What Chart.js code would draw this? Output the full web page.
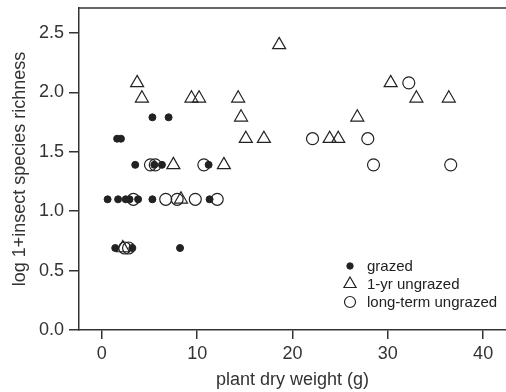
<!DOCTYPE html>
<html>
<head>
<meta charset="utf-8">
<script src="https://cdn.jsdelivr.net/npm/chart.js@4"></script>
<style>
html, body { margin: 0; padding: 0; background: #fff; }
</style>
</head>
<body>
<canvas id="myChart" width="506" height="392"></canvas>
<script>
// data: ln(1 + richness) vs plant dry weight
var grazedX = [5.3, 7.0, 1.6, 2.0, 3.5, 5.5, 6.3, 11.2, 0.6, 1.7, 2.5, 2.9, 3.8, 5.3, 11.3, 1.4, 3.2, 8.2];
var grazedY = [1.79, 1.79, 1.61, 1.61, 1.39, 1.39, 1.39, 1.39, 1.10, 1.10, 1.10, 1.10, 1.10, 1.10, 1.10, 0.69, 0.69, 0.69];

var oneYrX = [18.6, 3.7, 30.3, 4.2, 9.4, 10.2, 14.3, 33.0, 36.4, 14.6, 26.8, 15.1, 17.0, 23.9, 24.8, 7.5, 12.8, 8.3, 2.2];
var oneYrY = [2.40, 2.08, 2.08, 1.95, 1.95, 1.95, 1.95, 1.95, 1.95, 1.79, 1.79, 1.61, 1.61, 1.61, 1.61, 1.39, 1.39, 1.10, 0.69];

var longX = [5.1, 5.6, 10.7, 28.5, 36.6, 22.1, 27.9, 32.2, 3.3, 6.7, 7.9, 9.8, 12.1, 2.4, 2.8];
var longY = [1.39, 1.39, 1.39, 1.39, 1.39, 1.61, 1.61, 2.08, 1.10, 1.10, 1.10, 1.10, 1.10, 0.69, 0.69];

var seriesNames = ["grazed", "1-yr ungrazed", "long-term ungrazed"];
var xTicks = [0, 10, 20, 30, 40];
var yTicks = [0, 0.5, 1.0, 1.5, 2.0, 2.5];

function pts(xs, ys) {
  return xs.map(function (x, i) { return { x: x, y: ys[i] }; });
}

var ink = "#222";
var fontFam = "'Liberation Sans', Arial, sans-serif";

var styles = [
  { pointStyle: "circle", radius: 3.5, fill: ink, width: 1 },
  { pointStyle: "triangle", radius: 7.5, fill: "rgba(0,0,0,0)", width: 1.2 },
  { pointStyle: "circle", radius: 6, fill: "rgba(0,0,0,0)", width: 1.2 }
];

var boxAndLegend = {
  id: "boxAndLegend",
  afterDraw: function (chart) {
    var ctx = chart.ctx, a = chart.chartArea;
    ctx.save();
    ctx.strokeStyle = "#333";
    ctx.lineWidth = 1.5;
    ctx.beginPath();
    ctx.moveTo(a.left, a.top);
    ctx.lineTo(a.right, a.top);
    ctx.stroke();

    var mx = a.right - 156;
    var rows = [a.bottom - 64, a.bottom - 46, a.bottom - 28];
    ctx.font = "15px " + fontFam;
    ctx.textBaseline = "middle";
    for (var i = 0; i < 3; i++) {
      var s = styles[i];
      ctx.strokeStyle = ink;
      ctx.fillStyle = s.fill;
      ctx.lineWidth = s.width;
      Chart.helpers.drawPoint(ctx, { pointStyle: s.pointStyle, radius: i == 0 ? 3.2 : s.radius - 0.5, rotation: 0, borderWidth: s.width }, mx, rows[i]);
      ctx.fillStyle = ink;
      ctx.fillText(seriesNames[i], mx + 17, rows[i] + 1);
    }
    ctx.restore();
  }
};

var sets = [pts(grazedX, grazedY), pts(oneYrX, oneYrY), pts(longX, longY)];

new Chart("myChart", {
  type: "scatter",
  data: {
    datasets: sets.map(function (d, i) {
      return {
        label: seriesNames[i],
        data: d,
        pointStyle: styles[i].pointStyle,
        pointRadius: styles[i].radius,
        pointHoverRadius: styles[i].radius,
        backgroundColor: styles[i].fill,
        borderColor: ink,
        borderWidth: styles[i].width
      };
    })
  },
  options: {
    responsive: false,
    animation: false,
    layout: { autoPadding: false, padding: { top: 8, right: 0, left: 0, bottom: 0 } },
    plugins: { legend: { display: false }, tooltip: { enabled: false } },
    scales: {
      x: {
        type: "linear",
        min: -2.4,
        max: 42.4,
        afterBuildTicks: function (s) { s.ticks = xTicks.map(function (v) { return { value: v }; }); },
        afterFit: function (s) { s.height = 62; s.paddingLeft = 0; s.paddingRight = 0; },
        grid: { display: true, drawOnChartArea: false, drawTicks: true, tickLength: 9, color: "#333", lineWidth: 1.5 },
        border: { display: true, color: "#333", width: 1.5 },
        ticks: { color: "#333", padding: 4, font: { size: 18, family: fontFam }, maxRotation: 0 },
        title: { display: true, text: "plant dry weight (g)", color: "#333", font: { size: 18, family: fontFam }, padding: { top: 0, bottom: 1 } }
      },
      y: {
        type: "linear",
        min: 0,
        max: 2.71,
        afterBuildTicks: function (s) { s.ticks = yTicks.map(function (v) { return { value: v }; }); },
        afterFit: function (s) { s.width = 79; s.paddingTop = 0; s.paddingBottom = 0; },
        grid: { display: true, drawOnChartArea: false, drawTicks: true, tickLength: 10, color: "#333", lineWidth: 1.5 },
        border: { display: true, color: "#333", width: 1.5 },
        ticks: { color: "#333", padding: 5, font: { size: 18, family: fontFam }, callback: function (v) { return v.toFixed(1); } },
        title: { display: true, text: "log 1+insect species richness", color: "#333", font: { size: 18, family: fontFam }, padding: { top: 9, bottom: 0 } }
      }
    }
  },
  plugins: [boxAndLegend]
});
</script>
</body>
</html>
